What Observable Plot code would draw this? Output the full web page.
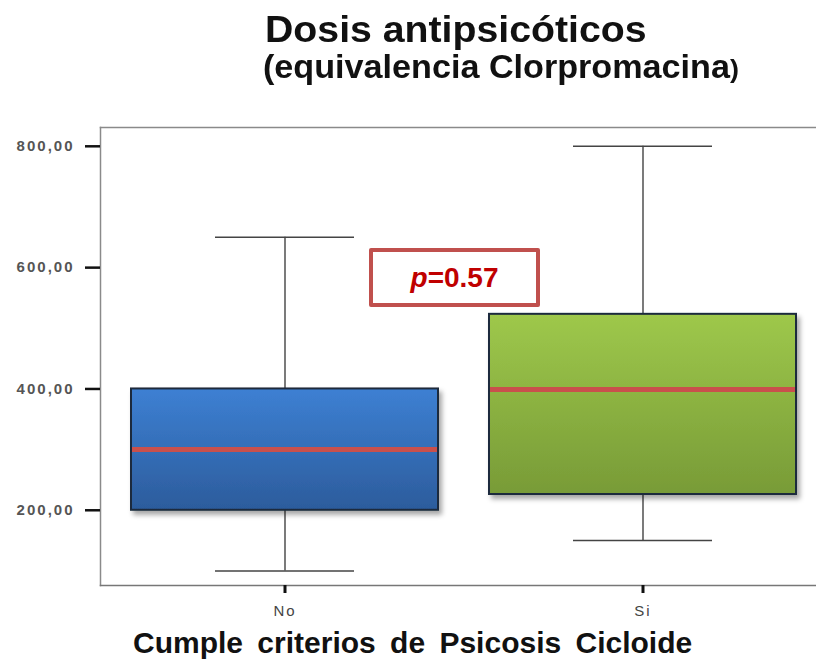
<!DOCTYPE html>
<html>
<head>
<meta charset="utf-8">
<script src="https://cdn.jsdelivr.net/npm/d3@7"></script>
<script src="https://cdn.jsdelivr.net/npm/@observablehq/plot@0.6"></script>
<style>
  html, body { margin: 0; padding: 0; background: #fff; }
  body { position: relative; width: 816px; height: 661px; overflow: hidden; font-family: "Liberation Sans", Arial, sans-serif; }
  .t { position: absolute; white-space: nowrap; font-weight: bold; color: #111; line-height: 1; transform-origin: left top; }
  #t1 { left: 265px; top: 12px; font-size: 36px; transform: scaleX(1.09); }
  #t2 { left: 263px; top: 50px; font-size: 33px; transform: scaleX(1.035); }
  #t2 .sp { font-size: 26px; }
  #chart { position: absolute; left: 0; top: 100px; }
  #xlab { position: absolute; left: 133px; top: 628px; font-size: 30px; word-spacing: 6px; }
  #pbox { position: absolute; left: 369px; top: 248px; width: 171px; height: 59px; box-sizing: border-box;
          border: 4px solid #c0504d; border-radius: 2px; background: #fff; color: #c00000; font-weight: bold;
          font-size: 28px; display: flex; align-items: center; justify-content: center; }
  #chart g[aria-label="y-axis tick label"] text { letter-spacing: 2px; }
  #chart g[aria-label="x-axis tick label"] text { letter-spacing: 2px; }
</style>
</head>
<body>
<div class="t" id="t1">Dosis antipsicóticos</div>
<div class="t" id="t2">(equivalencia Clorpromacina<span class="sp">)</span></div>
<div id="chart"></div>
<div class="t" id="xlab">Cumple criterios de Psicosis Cicloide</div>
<div id="pbox"><span><i>p</i>=0.57</span></div>
<script>
const categories = ["No", "Si"];
const lowWhisker = [100, 150];
const q1 = [200, 226];
const median = [300, 399];
const q3 = [400, 523];
const highWhisker = [650, 800];
const yTicks = [200, 400, 600, 800];
const gradients = [["#3d80d3", "#2c5c9c"], ["#9ec84b", "#789b37"]];

const data = categories.map((c, i) => ({
  cat: c, low: lowWhisker[i], q1: q1[i], median: median[i], q3: q3[i], high: highWhisker[i]
}));

const svg = Plot.plot({
  width: 816,
  height: 520,
  marginTop: 27,
  marginBottom: 35,
  marginLeft: 100,
  marginRight: 0,
  style: { background: "white", fontFamily: "'Liberation Sans', Arial, sans-serif", overflow: "hidden" },
  x: { type: "band", domain: categories, range: [100, 826], paddingInner: 0.1425, paddingOuter: 0.085 },
  y: { domain: [76, 831] },
  marks: [
    Plot.frame({ anchor: "left", stroke: "#8a8a8a", strokeWidth: 1.5 }),
    Plot.frame({ anchor: "top", stroke: "#8a8a8a", strokeWidth: 1.5 }),
    Plot.frame({ anchor: "bottom", stroke: "#777", strokeWidth: 1.5 }),
    Plot.ruleX(data, { x: "cat", y1: "low", y2: "high", stroke: "#333", strokeWidth: 1.3 }),
    Plot.tickY(data, { x: "cat", y: "low", insetLeft: 84, insetRight: 84, stroke: "#444", strokeWidth: 1.5 }),
    Plot.tickY(data, { x: "cat", y: "high", insetLeft: 84, insetRight: 84, stroke: "#444", strokeWidth: 1.5 }),
    Plot.barY(data, { x: "cat", y1: "q1", y2: "q3", fill: "#3a7bcc", stroke: "#1c2b3c", strokeWidth: 2 }),
    Plot.tickY(data, { x: "cat", y: "median", stroke: "#c9504c", strokeWidth: 5, insetLeft: 1, insetRight: 1 }),
    Plot.axisY({ ticks: yTicks, tickFormat: d => d3.format(".2f")(d).replace(".", ","), tickSize: 15, tickPadding: 11,
                 strokeWidth: 2.5, stroke: "#111", fill: "#555", fontSize: 15, fontWeight: "bold", label: null }),
    Plot.axisX({ tickSize: 8, tickPadding: 12, strokeWidth: 3, stroke: "#111", fill: "#444", fontSize: 15, label: null })
  ]
});

const sel = d3.select(svg);
const defs = sel.insert("defs", ":first-child");
gradients.forEach((g, i) => {
  const lg = defs.append("linearGradient").attr("id", "grad" + i).attr("x1", 0).attr("y1", 0).attr("x2", 0).attr("y2", 1);
  lg.append("stop").attr("offset", "0%").attr("stop-color", g[0]);
  lg.append("stop").attr("offset", "100%").attr("stop-color", g[1]);
});
const f = defs.append("filter").attr("id", "shadow").attr("x", "-5%").attr("y", "-5%").attr("width", "115%").attr("height", "125%");
f.append("feDropShadow").attr("dx", 3).attr("dy", 4).attr("stdDeviation", 2.5).attr("flood-color", "#000").attr("flood-opacity", 0.35);
sel.selectAll('g[aria-label="bar"] rect').attr("fill", (d, i) => `url(#grad${i})`).attr("filter", "url(#shadow)");

document.getElementById("chart").appendChild(svg);
</script>
</body>
</html>
